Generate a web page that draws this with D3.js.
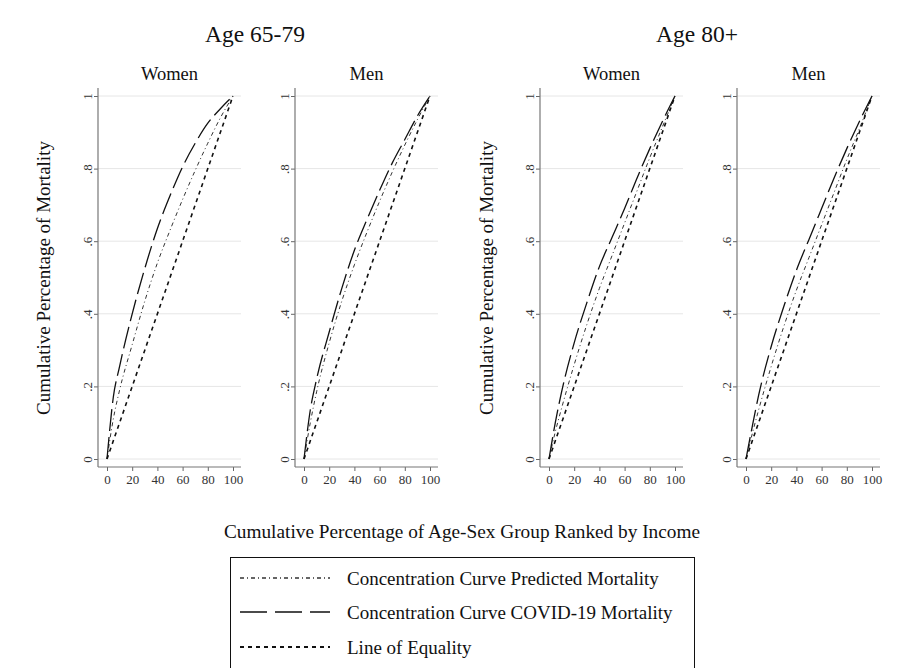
<!DOCTYPE html>
<html>
<head>
<meta charset="utf-8">
<script src="https://cdn.jsdelivr.net/npm/d3@7"></script>
<style>
  body { margin: 0; background: #fff; }
  svg { display: block; font-family: "Liberation Serif", "DejaVu Serif", serif; }
</style>
</head>
<body>
<div id="chart"></div>
<script>
// Data
const ageGroups = ["Age 65-79", "Age 80+"];
const sexes = ["Women", "Men"];
const xPoints = [0, 5, 10, 20, 30, 40, 50, 60, 70, 80, 90, 100];

// cumulative share of mortality at each xPoint
const covidW6579 = [0, .17, .255, .40, .525, .635, .725, .805, .87, .925, .965, 1];
const predW6579  = [0, .11, .19, .315, .435, .54, .63, .715, .795, .87, .94, 1];
const covidM6579 = [0, .135, .22, .35, .47, .575, .66, .74, .815, .88, .945, 1];
const predM6579  = [0, .10, .185, .32, .435, .535, .625, .71, .79, .865, .935, 1];
const covidW80   = [0, .10, .185, .32, .43, .53, .61, .69, .775, .855, .93, 1];
const predW80    = [0, .075, .14, .26, .37, .47, .56, .65, .74, .83, .915, 1];
const covidM80   = [0, .09, .175, .31, .42, .52, .605, .69, .775, .855, .93, 1];
const predM80    = [0, .07, .135, .255, .365, .465, .555, .645, .735, .825, .91, 1];
const equality   = [0, 1];
const equalityX  = [0, 100];

const xTicks = [0, 20, 40, 60, 80, 100];
const yTicks = [0, .2, .4, .6, .8, 1];
const yTickLabels = ["0", ".2", ".4", ".6", ".8", "1"];

const seriesNames = ["Concentration Curve Predicted Mortality",
                     "Concentration Curve COVID-19 Mortality",
                     "Line of Equality"];

const panelData = [
    { age: 0, sex: 0, covid: covidW6579, pred: predW6579 },
    { age: 0, sex: 1, covid: covidM6579, pred: predM6579 },
    { age: 1, sex: 0, covid: covidW80, pred: predW80 },
    { age: 1, sex: 1, covid: covidM80, pred: predM80 }
];

// Line styles
const styles = [
    { dash: "4,3,1,3", width: 1, color: "#333" },
    { dash: "22,6", width: 1.3, color: "#111" },
    { dash: "4,4", width: 1.6, color: "#111" }
];

const W = 907, H = 668;
const svg = d3.select("#chart").append("svg")
    .attr("width", W).attr("height", H);

// Panel layout
const panelLeft = [107, 304, 549, 746];
const plotW = 126;
const yTop = 96, yBottom = 459, axisY = 467, regionTop = 88;

const y = d3.scaleLinear().domain([0, 1]).range([yBottom, yTop]);

panelData.forEach((p, i) => {
    const x = d3.scaleLinear().domain([0, 100]).range([panelLeft[i], panelLeft[i] + plotW]);
    const axisX = panelLeft[i] - 9;
    const rightX = panelLeft[i] + plotW + 8;
    const g = svg.append("g");

    // Gridlines
    g.selectAll(".grid").data(yTicks).enter().append("line")
        .attr("x1", axisX).attr("x2", rightX)
        .attr("y1", d => y(d)).attr("y2", d => y(d))
        .attr("stroke", "#e6e6e6").attr("stroke-width", 1);

    // Y axis
    const yAxis = g.append("g")
        .attr("transform", `translate(${axisX},0)`)
        .call(d3.axisLeft(y).tickValues(yTicks).tickSize(4)
            .tickFormat((d, k) => yTickLabels[k]));
    yAxis.select(".domain").remove();
    yAxis.selectAll("line").attr("stroke", "#666");
    yAxis.selectAll("text")
        .attr("transform", "rotate(-90)")
        .attr("x", 0).attr("y", -6).attr("dy", 0)
        .attr("text-anchor", "middle")
        .attr("font-family", "Liberation Serif")
        .attr("font-size", 13).attr("fill", "#333");

    // X axis
    const xAxis = g.append("g")
        .attr("transform", `translate(0,${axisY})`)
        .call(d3.axisBottom(x).tickValues(xTicks).tickSize(4).tickPadding(4));
    xAxis.select(".domain").remove();
    xAxis.selectAll("line").attr("stroke", "#666");
    xAxis.selectAll("text")
        .attr("font-family", "Liberation Serif")
        .attr("font-size", 13).attr("fill", "#333");

    // Axis lines
    g.append("line")
        .attr("x1", axisX).attr("x2", axisX)
        .attr("y1", regionTop).attr("y2", axisY)
        .attr("stroke", "#777").attr("stroke-width", 1.2);
    g.append("line")
        .attr("x1", axisX).attr("x2", rightX)
        .attr("y1", axisY).attr("y2", axisY)
        .attr("stroke", "#777").attr("stroke-width", 1.2);

    // Curves
    const line = d3.line()
        .x(d => x(d[0]))
        .y(d => y(d[1]))
        .curve(d3.curveMonotoneX);

    const curves = [
        xPoints.map((v, k) => [v, p.pred[k]]),
        xPoints.map((v, k) => [v, p.covid[k]]),
        equalityX.map((v, k) => [v, equality[k]])
    ];
    curves.forEach((c, k) => {
        g.append("path")
            .datum(c)
            .attr("fill", "none")
            .attr("stroke", styles[k].color)
            .attr("stroke-width", styles[k].width)
            .attr("stroke-dasharray", styles[k].dash)
            .attr("d", line);
    });

    // Panel subtitle
    g.append("text")
        .attr("x", (axisX + rightX) / 2)
        .attr("y", 80)
        .attr("text-anchor", "middle")
        .attr("font-size", 18.5)
        .attr("fill", "#111")
        .text(sexes[p.sex]);
});

// Age group titles
[255, 697].forEach((cx, k) => {
    svg.append("text")
        .attr("x", cx).attr("y", 42)
        .attr("text-anchor", "middle")
        .attr("font-size", 23.5)
        .attr("fill", "#111")
        .text(ageGroups[k]);
});

// Y axis titles
[50, 493].forEach(cx => {
    svg.append("text")
        .attr("transform", `translate(${cx},278) rotate(-90)`)
        .attr("text-anchor", "middle")
        .attr("font-size", 19)
        .attr("fill", "#111")
        .text("Cumulative Percentage of Mortality");
});

// X axis title
svg.append("text")
    .attr("x", 462).attr("y", 538)
    .attr("text-anchor", "middle")
    .attr("font-size", 19.3)
    .attr("fill", "#111")
    .text("Cumulative Percentage of Age-Sex Group Ranked by Income");

// Legend
const legend = svg.append("g");
legend.append("rect")
    .attr("x", 230.5).attr("y", 557.5)
    .attr("width", 464).attr("height", 120)
    .attr("fill", "none").attr("stroke", "#111").attr("stroke-width", 1);

const rowY = [578, 612, 647];
seriesNames.forEach((name, k) => {
    legend.append("line")
        .attr("x1", 240).attr("x2", 330)
        .attr("y1", rowY[k]).attr("y2", rowY[k])
        .attr("stroke", styles[k].color)
        .attr("stroke-width", styles[k].width + 0.3)
        .attr("stroke-dasharray", k === 1 ? "27,8" : styles[k].dash);
    legend.append("text")
        .attr("x", 347).attr("y", rowY[k])
        .attr("dy", "0.35em")
        .attr("font-size", 19)
        .attr("fill", "#111")
        .text(name);
});
</script>
</body>
</html>
